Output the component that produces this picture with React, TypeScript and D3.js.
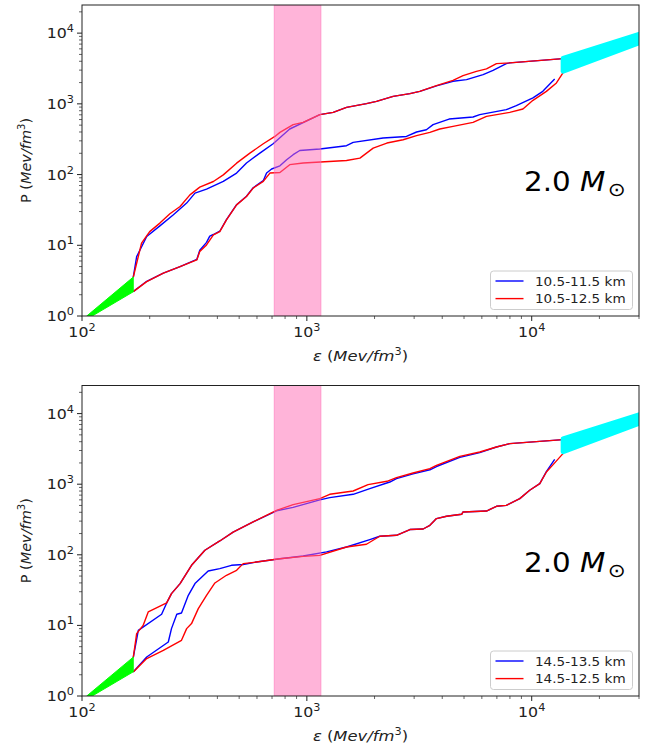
import React from 'react';
import * as d3 from 'd3';

type Pt = [number, number];

// panel 1 : 10.5-11.5 km (blue) vs 10.5-12.5 km (red)
const topBlueUpper: Pt[] = [[169,3.53],[175,6.9],[194,13.3],[222,18.8],[255,27],[292,39.5],[318,54.7],[358,62.3],[425,80],[487,105],[539,146],[618,201],[708,273],[839,441],[1142,703],[1310,758],[1501,892],[1841,1006],[2040,1085],[2420,1276],[2873,1393],[3178,1503],[3770,1800],[4467,2083],[5130,2203],[6080,2594],[6730,2985],[7710,3707],[7985,3795],[13770,4366]];
const topBlueLower: Pt[] = [[169,2.21],[194,3.1],[230,4.05],[273,5],[324,6.3],[334,8.5],[358,11],[370,13.5],[384,14.2],[410,15.8],[439,23],[487,37.5],[539,49.5],[577,65],[640,82],[662,105],[697,120],[759,133],[813,162],[869,191],[930,219],[1142,230],[1501,256],[1607,285],[2183,329],[2773,346],[3075,400],[3400,430],[3642,508],[4290,610],[5484,652],[5875,703],[7710,828],[8540,943],[10130,1213],[11200,1503],[12650,2254]];
const topRedUpper: Pt[] = [[169,3.53],[184,10.7],[200,15.6],[222,20.6],[246,27.9],[273,35.3],[302,51.7],[334,66.5],[384,79.8],[425,99],[487,145],[558,201],[640,273],[721,346],[759,395],[869,508],[963,547],[1142,703],[1310,758],[1501,892],[1841,1006],[2040,1085],[2420,1276],[2873,1393],[3178,1503],[3770,1811],[4467,2153],[4950,2508],[5675,2885],[6293,3120],[6968,3707],[7985,3795],[13770,4366]];
const topRedLower: Pt[] = [[169,2.21],[194,3.06],[230,4.03],[273,4.99],[324,6.21],[334,8.14],[358,10.1],[384,14],[410,15.6],[439,22.9],[487,37.3],[539,49],[577,64.4],[640,80],[685,105],[759,107],[839,138],[963,146],[1501,158],[1722,171],[1972,237],[2270,279],[2680,311],[3075,355],[3525,395],[3900,441],[4467,480],[5484,547],[6293,665],[7985,758],[9140,847],[10130,1122],[11620,1503],[12880,1977],[13770,2740]];

// panel 2 : 14.5-13.5 km (blue) vs 14.5-12.5 km (red)
const botBlueUpper: Pt[] = [[169,3.5],[178,8.5],[226,14.4],[238,20.8],[250,28.2],[273,39.1],[307,71],[352,116],[410,157],[470,210],[577,292],[733,420],[869,470],[1142,600],[1264,646],[1607,719],[1905,867],[2338,1074],[2504,1200],[2966,1400],[3525,1600],[3770,1780],[4790,2400],[5875,2800],[6968,3365],[7985,3758],[13770,4285]];
const botBlueLower: Pt[] = [[169,2.19],[194,3.57],[242,5.82],[250,9],[264,14.4],[277,15],[297,26.7],[318,39.1],[364,59],[410,63.8],[462,71],[521,73],[597,79],[759,88],[963,96],[1224,110],[1501,129],[1905,164],[2110,183],[2504,189],[2873,228],[3290,232],[3525,262],[3770,326],[4180,351],[4880,375],[4950,404],[6293,417],[6968,486],[7710,502],[8850,625],[9795,820],[10860,1019],[11620,1503],[12650,2254]];
const botRedUpper: Pt[] = [[169,3.5],[175,7.65],[187,10],[197,15.5],[238,20.8],[250,28.2],[273,39.1],[307,71],[352,116],[410,157],[470,210],[577,292],[733,427],[869,514],[1142,625],[1264,719],[1607,801],[1871,986],[2270,1099],[2504,1240],[2966,1442],[3525,1663],[3770,1853],[4790,2483],[5875,2859],[6968,3365],[7985,3758],[13770,4285]];
const botRedLower: Pt[] = [[169,2.19],[194,3.39],[230,4.44],[277,6.15],[292,9],[307,10.6],[329,17.3],[358,26.7],[390,39.9],[439,51.3],[487,60.3],[521,75],[597,79],[759,88],[963,95],[1142,98],[1501,129],[1841,141],[2110,183],[2504,189],[2873,228],[3290,232],[3525,262],[3770,326],[4180,351],[4880,375],[4950,404],[6293,417],[6968,486],[7710,502],[8850,625],[9795,820],[10860,1019],[11620,1489],[12450,1892],[13770,2710]];

// shared bands
const greenUpper: Pt[] = [[105,1],[169,3.55]];
const greenLower: Pt[] = [[111,1],[169,2.2]];
const cyanUpper: Pt[] = [[13800,4400],[30000,9600]];
const cyanLower: Pt[] = [[13800,2900],[30000,7300]];
const pinkBand = [716, 1155];

const xDomain: Pt = [100, 30000];
const yDomain: Pt = [1, 25000];
const xMajor = [100, 1000, 10000];
const yMajor = [1, 10, 100, 1000, 10000];
const legendTop = ['10.5-11.5 km', '10.5-12.5 km'];
const legendBot = ['14.5-13.5 km', '14.5-12.5 km'];
const massLabel = '2.0 ';

const W = 665, H = 744;
const left = 82, right = 639;
const SX = 1.13; // glyphs in the reference are stretched horizontally
const font = 'DejaVu Sans, sans-serif';

function minorTicks(lo: number, hi: number) {
  const out: number[] = [];
  for (let d = lo; d < hi; d *= 10) for (let k = 2; k <= 9; k++) if (d * k <= hi) out.push(d * k);
  return out;
}

const Pow = ({ x, y, e, anchor }: { x: number; y: number; e: number; anchor: string }) => (
  <g transform={`translate(${x},${y}) scale(${SX},1)`}>
    <text textAnchor={anchor} fontSize={14} fontFamily={font} fill="#222">
      10<tspan fontSize={10} dy={-6}>{e}</tspan>
    </text>
  </g>
);

function Panel({ top, bottom, curves, legend, id }: { top: number; bottom: number; curves: Pt[][]; legend: string[]; id: string }) {
  const x = d3.scaleLog().domain(xDomain).range([left, right]);
  const y = d3.scaleLog().domain(yDomain).range([bottom, top]);
  const line = d3.line<Pt>().x(d => x(d[0])).y(d => y(d[1]));
  const band = (up: Pt[], lo: Pt[]) => line([...up, ...lo.slice().reverse()]) + 'Z';
  const colors = ['#0000ff', '#0000ff', '#ff0000', '#ff0000'];
  const lx = 490.5, ly = bottom - 45;
  return (
    <g>
      <defs>
        <clipPath id={id}><rect x={left} y={top} width={right - left} height={bottom - top} /></clipPath>
      </defs>
      <g clipPath={`url(#${id})`}>
        {curves.map((c, i) => (
          <path key={i} d={line(c) || ''} fill="none" stroke={colors[i]} strokeWidth={1.4} strokeLinejoin="round" />
        ))}
        <rect x={x(pinkBand[0])} y={top} width={x(pinkBand[1]) - x(pinkBand[0])} height={bottom - top}
          fill="hotpink" fillOpacity={0.5} stroke="hotpink" strokeOpacity={0.5} />
        <path d={band(greenUpper, greenLower)} fill="#00ff00" stroke="#00ff00" strokeWidth={1} />
        <path d={band(cyanUpper, cyanLower)} fill="#00ffff" stroke="#00ffff" strokeWidth={5} strokeLinejoin="round" />
      </g>
      <rect x={left} y={top} width={right - left} height={bottom - top} fill="none" stroke="#222" strokeWidth={1} />
      {xMajor.map(v => (
        <g key={v}>
          <line x1={x(v)} x2={x(v)} y1={bottom} y2={bottom + 5} stroke="#222" />
          <Pow x={x(v)} y={bottom + 21} e={Math.round(Math.log10(v))} anchor="middle" />
        </g>
      ))}
      {minorTicks(100, 30000).map(v => (
        <line key={v} x1={x(v)} x2={x(v)} y1={bottom} y2={bottom + 3} stroke="#222" strokeWidth={0.7} />
      ))}
      {yMajor.map(v => (
        <g key={v}>
          <line x1={left - 5} x2={left} y1={y(v)} y2={y(v)} stroke="#222" />
          <Pow x={left - 8} y={y(v) + 5} e={Math.round(Math.log10(v))} anchor="end" />
        </g>
      ))}
      {minorTicks(1, 25000).map(v => (
        <line key={v} x1={left - 3} x2={left} y1={y(v)} y2={y(v)} stroke="#222" strokeWidth={0.7} />
      ))}
      <g transform={`translate(${(left + right) / 2},${bottom + 45}) scale(${SX},1)`}>
        <text textAnchor="middle" fontSize={14.5} fontFamily={font} fill="#222">
          <tspan fontStyle="italic">ε</tspan> (<tspan fontStyle="italic">Mev/fm</tspan><tspan fontSize={10} dy={-6}>3</tspan><tspan dy={6}>)</tspan>
        </text>
      </g>
      <g transform={`translate(31,${(top + bottom) / 2}) rotate(-90)`}>
        <text textAnchor="middle" fontSize={14.5} fontFamily={font} fill="#222">
          P (<tspan fontStyle="italic">Mev/fm</tspan><tspan fontSize={10} dy={-6}>3</tspan><tspan dy={6}>)</tspan>
        </text>
      </g>
      <g transform={`translate(524,${top + 186}) scale(${SX},1)`}>
        <text fontSize={26} fontFamily={font} fill="#000">
          {massLabel}<tspan fontStyle="italic">M</tspan><tspan fontSize={19} dx={2} dy={5}>⊙</tspan>
        </text>
      </g>
      <rect x={lx} y={ly} width={142} height={38.5} rx={3} fill="#fff" fillOpacity={0.8} stroke="#ccc" />
      {legend.map((t, i) => (
        <g key={t}>
          <line x1={lx + 5} x2={lx + 33} y1={ly + 10 + i * 17.6} y2={ly + 10 + i * 17.6} stroke={i ? '#ff0000' : '#0000ff'} strokeWidth={1.4} />
          <g transform={`translate(${lx + 44.5},${ly + 14.5 + i * 17.6}) scale(${SX},1)`}>
            <text fontSize={12} fontFamily={font} fill="#222">{t}</text>
          </g>
        </g>
      ))}
    </g>
  );
}

export default function App() {
  return (
    <svg width={W} height={H} style={{ position: 'absolute', left: 0, top: 0, background: '#fff' }}>
      <Panel id="c1" top={5} bottom={316} curves={[topBlueUpper, topBlueLower, topRedUpper, topRedLower]} legend={legendTop} />
      <Panel id="c2" top={385.5} bottom={696} curves={[botBlueUpper, botBlueLower, botRedUpper, botRedLower]} legend={legendBot} />
    </svg>
  );
}
